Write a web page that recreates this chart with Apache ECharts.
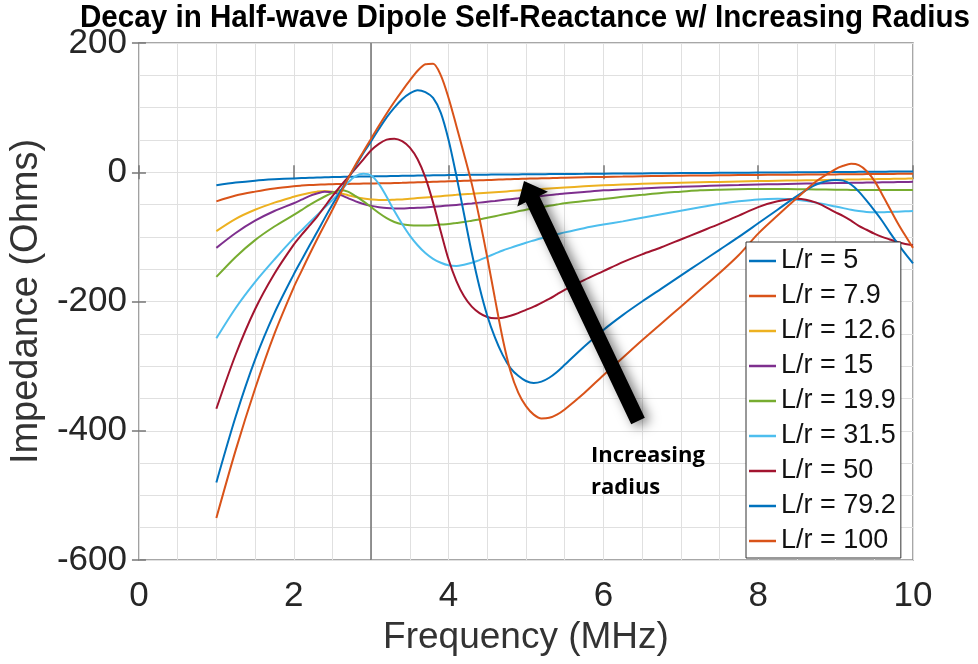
<!DOCTYPE html>
<html>
<head>
<meta charset="utf-8">
<script src="https://cdn.jsdelivr.net/npm/echarts@6/dist/echarts.min.js"></script>
<style>
html,body{margin:0;padding:0;background:#fff;}
#chart{width:978px;height:664px;}
</style>
</head>
<body>
<div id="chart"></div>
<script>
// Frequency samples (MHz)
const freq = [1,1.25,1.5,1.75,2,2.1,2.2,2.3,2.4,2.5,
  2.6,2.7,2.8,2.9,3,3.1,3.2,3.3,3.4,3.5,3.6,3.7,3.8,3.9,4,4.1,4.2,4.3,4.4,4.5,4.6,4.7,4.8,4.9,5,5.1,5.2,5.3,5.4,5.5,
  5.75,6,6.25,6.5,6.75,7,7.25,7.5,7.75,8,8.25,8.5,8.75,9,
  9.1,9.2,9.3,9.4,9.5,9.6,9.7,9.8,9.9,10];

const seriesNames = ['L/r = 5','L/r = 7.9','L/r = 12.6','L/r = 15','L/r = 19.9','L/r = 31.5','L/r = 50','L/r = 79.2','L/r = 100'];

const lr5 = [-20,-16,-13,-11,-9.5,-9,-8.6,-8.2,-7.8,-7.5,
  -7.3,-7,-6.8,-6.6,-6.4,-6.2,-6,-5.8,-5.6,-5.4,-5.2,-5,-4.8,-4.6,-4.4,-4.2,-4.1,-4,-3.8,-3.7,-3.6,-3.5,-3.4,-3.3,-3.2,-3.1,-3,-2.9,-2.8,-2.7,
  -2.5,-2.2,-2,-1.8,-1.5,-1.3,-1.1,-0.9,-0.7,-0.5,-0.3,-0.1,0.1,0.3,
  0.4,0.5,0.6,0.7,0.8,0.9,1,1.1,1.2,1.3];

const lr7_9 = [-45,-36,-30,-25,-21.5,-20.6,-19.9,-19.3,-18.8,-18.5,
  -18.2,-18,-17.8,-17.6,-17.4,-17.2,-17,-16.7,-16.4,-16,-15.6,-15.2,-14.8,-14.4,-14,-13.6,-13.2,-12.8,-12.4,-12,-11.6,-11.2,-10.8,-10.4,-10,-9.7,-9.4,-9.1,-8.8,-8.5,
  -7.8,-7.2,-6.7,-6.2,-5.8,-5.4,-5,-4.7,-4.4,-4.1,-3.9,-3.7,-3.5,-3.3,
  -3.2,-3.1,-3,-2.9,-2.8,-2.7,-2.6,-2.5,-2.4,-2.3];

const lr12_6 = [-91,-72,-58,-47,-38,-34.8,-32,-30,-28.9,-30,
  -32.5,-35.5,-38.5,-40.5,-42,-43,-43,-42.5,-42,-41,-40,-39,-38,-37,-36,-35,-34,-33.2,-32.4,-31.6,-30.8,-30,-29.2,-28.4,-27.6,-26.8,-26,-25.2,-24.4,-23.6,
  -21.8,-20.2,-19,-17.9,-17,-16.2,-15.5,-14.9,-14.3,-13.7,-13.2,-12.7,-12.2,-11.7,
  -11.5,-11.3,-11.1,-10.9,-10.7,-10.5,-10.3,-10.1,-9.9,-9.7];

const lr15 = [-117,-94,-75,-60,-48,-42.5,-37,-33,-30,-31,
  -35,-40,-45,-49,-52,-54,-55.5,-56,-56,-55.5,-55,-54.5,-53.5,-52.5,-51.5,-50.5,-49.5,-48.3,-47,-45.7,-44.4,-43,-41.7,-40.4,-39,-37.8,-36.6,-35.4,-34.2,-33,
  -30.5,-28,-26.5,-25,-23.7,-22.5,-21.5,-20.6,-19.8,-19,-18.4,-17.8,-17.3,-16.8,
  -16.6,-16.4,-16.2,-16,-15.8,-15.6,-15.4,-15.2,-15,-14.8];

const lr19_9 = [-162,-131,-105,-84,-66,-58.5,-51,-44,-37.5,-32,
  -28,-30,-37,-45,-54,-63,-71,-77,-80.5,-82,-82.5,-82.5,-82,-81,-80,-78.5,-77,-75,-73,-70.5,-68,-65.5,-63,-60.5,-58,-56,-54,-52,-50,-48,
  -44.5,-41.5,-38,-35,-32,-30,-28,-27,-26.3,-26,-26,-26.2,-26.6,-27,
  -27.2,-27.3,-27.4,-27.5,-27.6,-27.6,-27.6,-27.6,-27.5,-27.4];

const lr31_5 = [-257,-210,-170,-135,-102,-90,-78,-66.5,-54.5,-43,
  -30,-16,-6,-2.5,-5,-18,-38,-60,-80,-98,-113,-125,-134,-140,-144,-145,-143,-140,-136,-131,-126,-121,-117,-113,-109,-105.5,-102,-99,-96,-93,
  -86.5,-81,-76,-70.5,-65,-59.5,-54,-49,-45,-42,-41,-42.5,-47,-53,
  -55.5,-58,-60,-61.5,-62,-62,-61.5,-61,-60.5,-60];

const lr50 = [-366,-282,-212,-157,-112,-97,-83,-69,-53,-37,
  -22,-8,6,20,34,44,50.5,52,48,38,20,-8,-47,-92,-135,-168,-192,-208,-218,-224,-226,-225,-222,-218,-213,-208,-202,-196,-189,-182,
  -167,-153,-139,-127,-116,-104,-92,-80,-67,-54,-45,-41,-47,-62,
  -68,-75,-83,-89,-95,-100,-104,-108,-111,-113];

const lr79_2 = [-480,-378,-290,-218,-158,-136,-114,-93,-71,-50,
  -30,-10,10,30,48,67,85,100,113,122,127,124,115,92,50,-5,-65,-125,-178,-222,-256,-283,-303,-315,-323,-326,-324,-318,-309,-298,
  -270,-244,-221,-200,-180,-160,-140,-120,-100,-79,-58,-37,-19,-12,
  -13,-19,-30,-44,-59,-75,-93,-110,-126,-141];

const lr100 = [-535,-430,-335,-250,-178,-153,-128,-104,-81,-58,
  -34,-10,12,32,52,72,91,109,126,142,157,167,168,150,115,72,28,-18,-72,-132,-196,-258,-308,-341,-362,-375,-381,-380,-375,-367,
  -342,-314,-287,-260,-234,-208,-182,-156,-128,-95,-67,-40,-14,5,
  10,13,11,2,-13,-34,-56,-78,-98,-117];

const seriesValues = [lr5, lr7_9, lr12_6, lr15, lr19_9, lr31_5, lr50, lr79_2, lr100];
const colors = ['#0072BD','#D95319','#EDB120','#7E2F8E','#77AC30','#4DBEEE','#A2142F','#0072BD','#D95319'];

const xTicks = [0,2,4,6,8,10];
const yTicks = [-600,-400,-200,0,200];
const markerFreq = 3;

const chart = echarts.init(document.getElementById('chart'), null, {renderer:'canvas'});

const FONT = '"Liberation Sans", Arial, sans-serif';

const series = seriesValues.map((vals, k) => ({
  name: seriesNames[k],
  type: 'line',
  data: freq.map((f, i) => [f, vals[i]]),
  showSymbol: false,
  symbol: 'none',
  smooth: 0.3,
  lineStyle: {width: 2, color: colors[k]},
  itemStyle: {color: colors[k]},
  z: 3 + k,
  animation: false,
  markLine: k === 0 ? {
    silent: true, symbol: 'none', animation: false,
    label: {show: false},
    lineStyle: {color: '#707070', width: 1.5, type: 'solid'},
    data: [{xAxis: markerFreq}]
  } : undefined
}));

const gridCol = '#e0e0e0';

const option = {
  animation: false,
  backgroundColor: '#fff',
  color: colors,
  grid: {left: 135, right: 65, top: 43, bottom: 104, show: true, borderColor: '#8a8a8a', borderWidth: 1.5, backgroundColor: '#fff'},
  xAxis: [{
    type: 'value', min: xTicks[0], max: xTicks[xTicks.length-1], interval: 2,
    name: 'Frequency (MHz)', nameLocation: 'middle', nameGap: 57,
    nameTextStyle: {fontSize: 37, fontFamily: FONT, color: '#333'},
    axisLine: {show: false},
    axisTick: {show: true, inside: true, length: 7, lineStyle: {color: '#777', width: 1.5}},
    axisLabel: {fontSize: 35, fontFamily: FONT, color: '#262626', margin: 19},
    splitLine: {show: true, lineStyle: {color: gridCol, width: 1}},
    minorTick: {show: false, splitNumber: 4},
    minorSplitLine: {show: true, lineStyle: {color: gridCol, width: 1}}
  }, {
    type: 'value', position: 'top', min: 0, max: 10, interval: 2,
    axisLine: {show: false}, axisLabel: {show: false}, splitLine: {show: false},
    axisTick: {show: true, inside: true, length: 7, lineStyle: {color: '#777', width: 1.5}}
  }],
  yAxis: [{
    type: 'value', min: yTicks[0], max: yTicks[yTicks.length-1], interval: 200,
    name: 'Impedance (Ohms)', nameLocation: 'middle', nameGap: 85,
    nameTextStyle: {fontSize: 38, fontFamily: FONT, color: '#333'},
    axisLine: {show: false},
    axisTick: {show: true, inside: true, length: 7, lineStyle: {color: '#777', width: 1.5}},
    axisLabel: {fontSize: 35, fontFamily: FONT, color: '#262626', margin: 12},
    splitLine: {show: true, lineStyle: {color: gridCol, width: 1}},
    minorTick: {show: false, splitNumber: 4},
    minorSplitLine: {show: true, lineStyle: {color: gridCol, width: 1}}
  }, {
    type: 'value', position: 'right', min: -600, max: 200, interval: 200,
    axisLine: {show: false}, axisLabel: {show: false}, splitLine: {show: false},
    axisTick: {show: true, inside: true, length: 7, lineStyle: {color: '#777', width: 1.5}}
  }],
  legend: {
    data: seriesNames,
    orient: 'vertical',
    left: 746, top: 242,
    icon: 'rect', itemWidth: 27, itemHeight: 2.5, itemGap: 7,
    padding: [5, 5, 3, 3],
    borderColor: '#333', borderWidth: 1, backgroundColor: '#fff',
    textStyle: {fontSize: 27, lineHeight: 28, fontFamily: FONT, color: '#111'},
    z: 20
  },
  graphic: [
    {
      type: 'text', z: 30,
      x: 525, y: 3, scaleX: 0.955,
      style: {text: 'Decay in Half-wave Dipole Self-Reactance w/ Increasing Radius',
        font: 'bold 31px "Liberation Sans", Arial, sans-serif', fill: '#000', textAlign: 'center', textVerticalAlign: 'top'}
    },
    {
      type: 'polygon', z: 25,
      shape: {points: [[524,181],[547.9,191.8],[539.4,195.9],[644.8,417.8],[631.2,424.2],[525.8,202.3],[517.3,206.4]]},
      style: {fill: '#000', shadowBlur: 12, shadowColor: 'rgba(0,0,0,0.5)', shadowOffsetX: 5, shadowOffsetY: 3}
    },
    {
      type: 'text', z: 30, x: 591, y: 440,
      style: {text: 'Increasing\nradius', font: 'bold 22px "Open Sans", Lato, sans-serif', lineHeight: 32, fill: '#000'}
    }
  ],
  series: series
};

chart.setOption(option);
</script>
</body>
</html>
